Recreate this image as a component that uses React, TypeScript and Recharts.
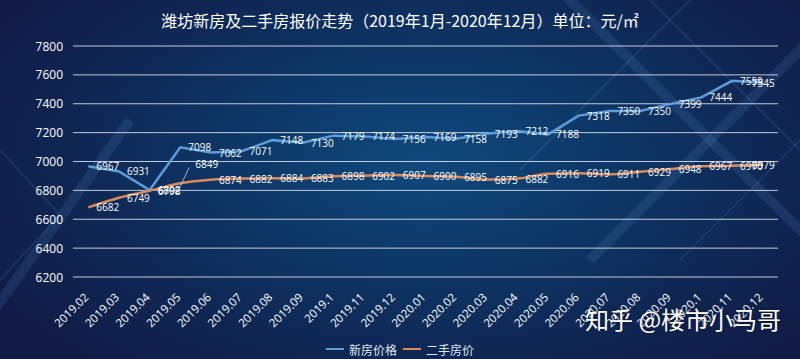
import React from 'react';
import { LineChart, Line, XAxis, YAxis, CartesianGrid, Legend, LabelList } from 'recharts';

const months = [
  '2019.02', '2019.03', '2019.04', '2019.05', '2019.06', '2019.07', '2019.08', '2019.09', '2019.1', '2019.11', '2019.12',
  '2020.01', '2020.02', '2020.03', '2020.04', '2020.05', '2020.06', '2020.07', '2020.08', '2020.09', '2020.1', '2020.11', '2020.12',
];
const newPrices = [6967, 6931, 6802, 7098, 7062, 7071, 7148, 7130, 7179, 7174, 7156, 7169, 7158, 7193, 7212, 7188, 7318, 7350, 7350, 7399, 7444, 7559, 7545];
const usedPrices = [6682, 6749, 6798, 6849, 6874, 6882, 6884, 6883, 6898, 6902, 6907, 6900, 6895, 6875, 6882, 6916, 6919, 6911, 6929, 6948, 6967, 6970, 6979];
const yTicks = [6200, 6400, 6600, 6800, 7000, 7200, 7400, 7600, 7800];

const seriesNames = { newPrice: '新房价格', usedPrice: '二手房价' };
const BLUE = '#5d9ddb';
const ORANGE = '#dc8a5c';

const data = months.map((m, i) => ({ month: m, newPrice: newPrices[i], usedPrice: usedPrices[i] }));

const numFont = '"Open Sans", "DejaVu Sans", sans-serif';
const cjkFont = '"Noto Sans CJK SC", "Noto Sans", sans-serif';

const XTick = (props: any) => {
  const { x, y, payload } = props;
  return (
    <g transform={`translate(${x + 1},${y + 21})`}>
      <text x={0} y={0} transform="rotate(-45)" textAnchor="end" fill="#ffffff" fontSize={11.5} fontFamily={numFont}>
        {payload.value}
      </text>
    </g>
  );
};

const YTick = (props: any) => {
  const { x, y, payload } = props;
  return (
    <text x={x - 10} y={y} textAnchor="end" dominantBaseline="central" fill="#ffffff" fontSize={12} fontFamily={numFont}>
      {payload.value}
    </text>
  );
};

const makeLabel = (series: 'new' | 'used') => (props: any) => {
  const { x, y, value, index } = props;
  const last = index === months.length - 1;
  if (series === 'used' && index === 3) {
    return (
      <g>
        <line x1={x - 1} y1={y + 5} x2={x + 9} y2={y - 16} stroke="#c9d2e4" strokeWidth={0.8} />
        <text x={x + 15} y={y - 19} dominantBaseline="central" fill="#ffffff" fontSize={10} fontFamily={numFont}>
          {value}
        </text>
      </g>
    );
  }
  return (
    <text
      x={last ? x + 12 : x + 8}
      y={y}
      textAnchor={last ? 'end' : 'start'}
      dominantBaseline="central"
      fill="#ffffff"
      fontSize={10}
      fontFamily={numFont}
    >
      {value}
    </text>
  );
};

const renderLegend = () => (
  <div
    style={{
      display: 'flex',
      justifyContent: 'center',
      alignItems: 'center',
      height: 20,
      fontFamily: cjkFont,
      fontSize: 12,
      color: '#dfe5f0',
    }}
  >
    <span style={{ display: 'inline-block', width: 18, height: 2, background: BLUE, marginRight: 5 }} />
    <span style={{ marginRight: 6 }}>{seriesNames.newPrice}</span>
    <span style={{ display: 'inline-block', width: 18, height: 2, background: ORANGE, marginRight: 5 }} />
    <span>{seriesNames.usedPrice}</span>
  </div>
);

export default function App() {
  return (
    <div
      style={{
        position: 'absolute',
        left: 0,
        top: 0,
        width: 800,
        height: 359,
        overflow: 'hidden',
        background:
          'radial-gradient(ellipse 62% 75% at 53% 45%, #10497d 0%, #0d3767 38%, #0f2653 72%, #121b47 100%)',
      }}
    >
      <svg width={800} height={359} style={{ position: 'absolute', left: 0, top: 0 }}>
        <g stroke="rgba(110,170,235,0.13)" fill="none" strokeWidth={10}>
          <line x1={-20} y1={330} x2={130} y2={120} />
          <line x1={560} y1={-10} x2={820} y2={250} />
          <line x1={820} y1={30} x2={590} y2={260} />
        </g>
        <g stroke="rgba(110,170,235,0.12)" fill="none" strokeWidth={2}>
          <polyline points="0,150 60,215 0,280" />
          <line x1={640} y1={-10} x2={820} y2={170} />
          <line x1={700} y1={-10} x2={520} y2={170} />
          <line x1={830} y1={110} x2={680} y2={260} />
        </g>
      </svg>
      <div
        style={{
          position: 'absolute',
          left: 0,
          top: 8,
          width: 800,
          textAlign: 'center',
          fontFamily: cjkFont,
          fontSize: 16,
          lineHeight: '24px',
          color: '#ffffff',
        }}
      >
        潍坊新房及二手房报价走势（2019年1月-2020年12月）单位：元/㎡
      </div>
      <div style={{ position: 'absolute', left: 0, top: 0 }}>
        <LineChart width={800} height={359} data={data} margin={{ top: 46, right: 22, left: 8, bottom: 0 }}>
          <CartesianGrid horizontal vertical={false} stroke="#dfe6f3" strokeOpacity={0.85} strokeWidth={1} />
          <XAxis
            dataKey="month"
            scale="band"
            interval={0}
            axisLine={false}
            tickLine={false}
            tickSize={0}
            tickMargin={0}
            height={62}
            tick={<XTick />}
          />
          <YAxis
            domain={[6200, 7800]}
            ticks={yTicks}
            width={65}
            axisLine={false}
            tickLine={false}
            tickSize={0}
            tickMargin={0}
            tick={<YTick />}
          />
          <Legend verticalAlign="bottom" content={renderLegend} wrapperStyle={{ left: 0, width: 800 }} />
          <Line
            dataKey="newPrice"
            name={seriesNames.newPrice}
            type="linear"
            stroke={BLUE}
            strokeWidth={2.5}
            dot={false}
            isAnimationActive={false}
          >
            <LabelList dataKey="newPrice" content={makeLabel('new')} />
          </Line>
          <Line
            dataKey="usedPrice"
            name={seriesNames.usedPrice}
            type="monotone"
            stroke={ORANGE}
            strokeWidth={2.5}
            dot={false}
            isAnimationActive={false}
          >
            <LabelList dataKey="usedPrice" content={makeLabel('used')} />
          </Line>
        </LineChart>
      </div>
      <div
        style={{
          position: 'absolute',
          left: 585,
          top: 303,
          fontFamily: cjkFont,
          fontSize: 24,
          lineHeight: '32px',
          color: '#ffffff',
          textShadow: '0 0 3px rgba(0,0,0,0.6)',
          whiteSpace: 'nowrap',
        }}
      >
        知乎 @楼市小马哥
      </div>
    </div>
  );
}
